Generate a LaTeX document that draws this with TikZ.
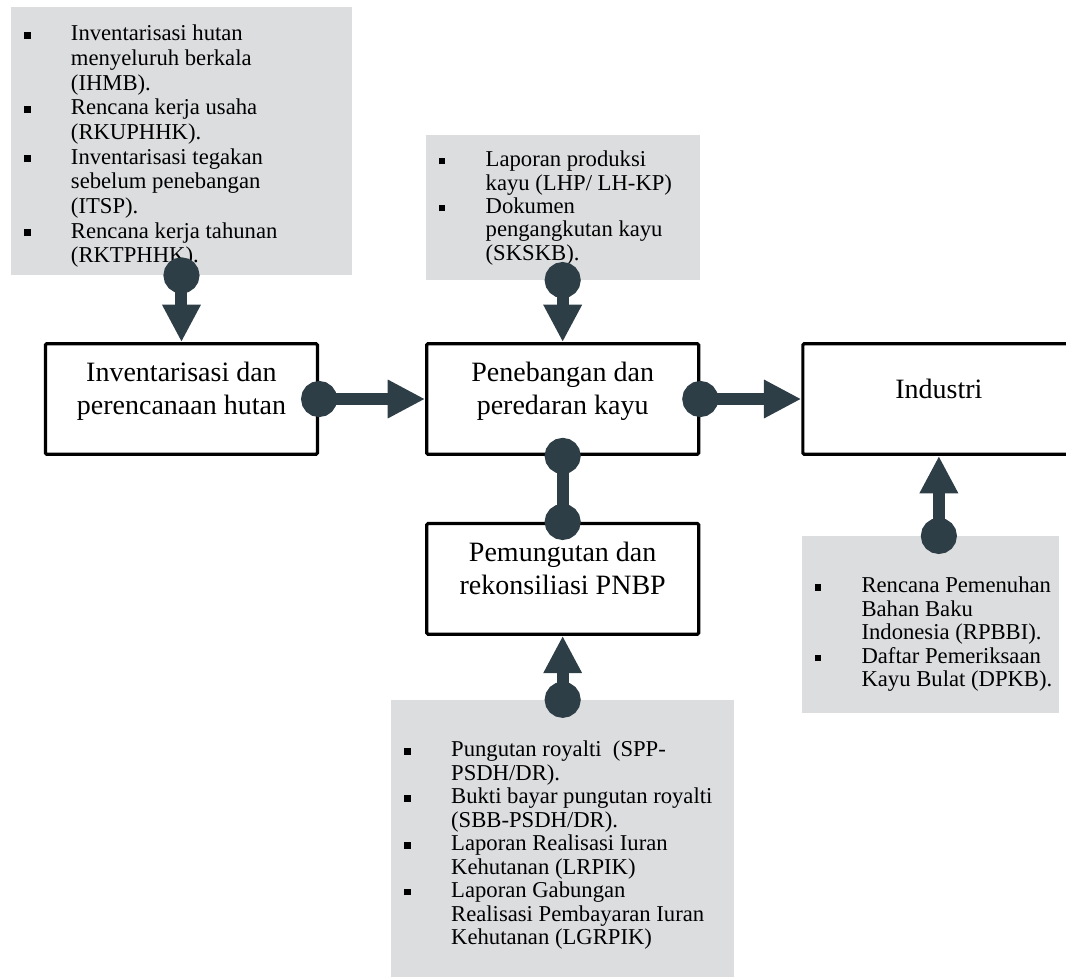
\documentclass[tikz,border=0pt]{standalone}
\usepackage{fontspec}
\setmainfont{Liberation Serif}
\usetikzlibrary{arrows.meta,positioning}
\definecolor{docgrey}{RGB}{220,221,223}
\definecolor{flowdark}{RGB}{45,62,70}
\newcommand{\sqbul}{\rule[1.6pt]{5pt}{5pt}}
\tikzset{
    %Define style for process boxes
    box/.style={
           rectangle,
           rounded corners=1pt,
           draw=black, line width=2.4pt,
           fill=white,
           minimum width=204pt,
           minimum height=83pt,
           align=center,
           text depth=16pt,
           font=\fontsize{21pt}{24.75pt}\selectfont},
    %Define style for grey document panels
    docs/.style={
           rectangle,
           fill=docgrey,
           inner sep=0pt},
    doclist/.style={
           inner sep=0pt,
           anchor=base west,
           font=\fontsize{17pt}{17.6pt}\selectfont},
    % Define connector styles
    feed/.style={
           flowdark,
           line width=9pt,
           {Circle[length=27pt]}-{Triangle[length=28pt,width=27pt]},
           shorten <=-13.5pt},
    link/.style={
           flowdark,
           line width=9pt,
           {Circle[length=27pt]}-{Circle[length=27pt]},
           shorten <=-13.5pt,
           shorten >=-13.5pt}
}

\begin{document}
\begin{tikzpicture}
    \useasboundingbox (0,0) rectangle (799.5pt,-733.5pt);
 %nodes
    \node[box] (inv) at (136.1pt,-299.25pt) {Inventarisasi dan\\perencanaan hutan};
    \node[box, right=79.5pt of inv] (tebang) {Penebangan dan\\peredaran kayu};
    \node[box, right=75.75pt of tebang] (industri) {Industri};
    \node[box, below=49.5pt of tebang] (pnbp) {Pemungutan dan\\rekonsiliasi PNBP};
 %document panels
    \node[docs, minimum width=255.75pt, minimum height=201pt, above=50pt of inv] (ihmb) {};
    \node[docs, minimum width=205.5pt, minimum height=108.75pt, above=46.5pt of tebang] (lhp) {};
    \node[docs, minimum width=257.25pt, minimum height=207.75pt, below=48pt of pnbp] (pungut) {};
    \node[docs, minimum width=192.75pt, minimum height=132.75pt, below=60pt of industri.south west, anchor=north west] (rpbbi) {};
 %document lists
    \node[doclist, font=\fontsize{17pt}{18.5pt}\selectfont] (ihmbtext) at ([xshift=9.75pt, yshift=-25.5pt]ihmb.north west) {%
      \begin{tabular}[t]{@{}l@{\hspace{30.25pt}}l@{}}
        \sqbul & Inventarisasi hutan\\
               & menyeluruh berkala\\
               & (IHMB).\\
        \sqbul & Rencana kerja usaha\\
               & (RKUPHHK).\\
        \sqbul & Inventarisasi tegakan\\
               & sebelum penebangan\\
               & (ITSP).\\
        \sqbul & Rencana kerja tahunan\\
               & (RKTPHHK).
      \end{tabular}};
    \node[doclist] (lhptext) at ([xshift=9.75pt, yshift=-24pt]lhp.north west) {%
      \begin{tabular}[t]{@{}l@{\hspace{30.25pt}}l@{}}
        \sqbul & Laporan produksi\\
               & kayu (LHP/ LH-KP)\\
        \sqbul & Dokumen\\
               & pengangkutan kayu\\
               & (SKSKB).
      \end{tabular}};
    \node[doclist] (punguttext) at ([xshift=9.75pt, yshift=-42.75pt]pungut.north west) {%
      \begin{tabular}[t]{@{}l@{\hspace{30.25pt}}l@{}}
        \sqbul & Pungutan royalti \ (SPP-\\
               & PSDH/DR).\\
        \sqbul & Bukti bayar pungutan royalti\\
               & (SBB-PSDH/DR).\\
        \sqbul & Laporan Realisasi Iuran\\
               & Kehutanan (LRPIK)\\
        \sqbul & Laporan Gabungan\\
               & Realisasi Pembayaran Iuran\\
               & Kehutanan (LGRPIK)
      \end{tabular}};
    \node[doclist] (rpbbitext) at ([xshift=9.75pt, yshift=-42.75pt]rpbbi.north west) {%
      \begin{tabular}[t]{@{}l@{\hspace{30.25pt}}l@{}}
        \sqbul & Rencana Pemenuhan\\
               & Bahan Baku\\
               & Indonesia (RPBBI).\\
        \sqbul & Daftar Pemeriksaan\\
               & Kayu Bulat (DPKB).
      \end{tabular}};
 %edges
    \draw[feed] (inv.north |- ihmb.south) -- (inv.north);
    \draw[feed] (tebang.north |- lhp.south) -- (tebang.north);
    \draw[feed] (inv.east) -- (tebang.west);
    \draw[feed] (tebang.east) -- (industri.west);
    \draw[link] (tebang.south) -- (pnbp.north);
    \draw[feed] (pnbp.south |- pungut.north) -- (pnbp.south);
    \draw[feed] (industri.south |- rpbbi.north) -- (industri.south);
\end{tikzpicture}
\end{document}
